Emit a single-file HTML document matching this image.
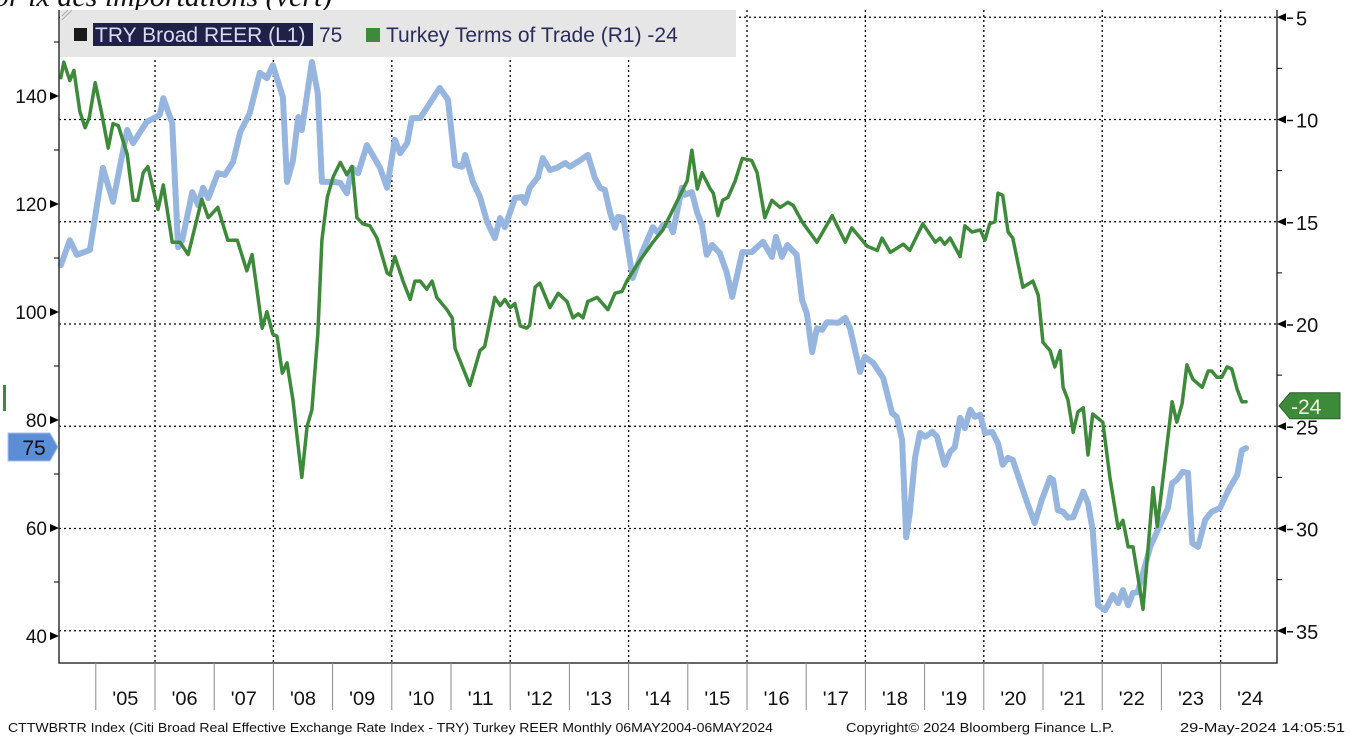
<!DOCTYPE html>
<html><head><meta charset="utf-8">
<style>
html,body{margin:0;padding:0;background:#fff;overflow:hidden}
body{width:1351px;height:747px;position:relative;font-family:"Liberation Sans",sans-serif}
svg text{font-family:"Liberation Sans",sans-serif}
</style></head>
<body>
<svg id="chart" width="1351" height="747" viewBox="0 0 1351 747" xmlns="http://www.w3.org/2000/svg">
<text x="-6" y="6" font-family="Liberation Serif" font-style="italic" font-size="30" fill="#111" style="font-family:'Liberation Serif',serif">pr ix des importations (vert)</text>
<g id="grid"></g>
<g id="series"></g>
<g id="axes"></g>
<rect x="60" y="10" width="676" height="47" fill="#e6e6e6"/>
<path d="M62 16 L68 10 M62 20 L72 10" stroke="#aaa" stroke-width="1"/>
<rect x="74" y="28" width="13" height="13" fill="#1a1a1a"/>
<rect x="93" y="23" width="220" height="23" fill="#1f2147"/>
<text x="95" y="42" font-size="21" fill="#d6dcf0">TRY Broad REER (L1)</text>
<text x="319" y="42" font-size="21" fill="#2a2d5c">75</text>
<rect x="366" y="28" width="14" height="14" fill="#3d8a3a"/>
<text x="386" y="42" font-size="21" fill="#2a2d5c">Turkey Terms of Trade (R1) -24</text>
<text x="8" y="732" font-size="12.5" fill="#111" textLength="765" lengthAdjust="spacingAndGlyphs">CTTWBRTR Index (Citi Broad Real Effective Exchange Rate Index - TRY) Turkey REER  Monthly 06MAY2004-06MAY2024</text>
<text x="846" y="732" font-size="12.5" fill="#111" textLength="268" lengthAdjust="spacingAndGlyphs">Copyright© 2024 Bloomberg Finance L.P.</text>
<text x="1180" y="732" font-size="12.5" fill="#111" textLength="165" lengthAdjust="spacingAndGlyphs">29-May-2024 14:05:51</text>
</svg>
<script>
const reerDates=[2004.41,2004.56,2004.68,2004.90,2005.12,2005.29,2005.53,2005.63,2005.86,2006.08,2006.14,2006.29,2006.39,2006.46,2006.63,2006.73,2006.81,2006.90,2007.06,2007.18,2007.32,2007.44,2007.60,2007.77,2007.89,2007.99,2008.16,2008.23,2008.33,2008.42,2008.48,2008.65,2008.75,2008.82,2009.01,2009.13,2009.24,2009.33,2009.43,2009.58,2009.80,2009.92,2010.05,2010.14,2010.26,2010.34,2010.48,2010.81,2010.95,2011.07,2011.19,2011.24,2011.37,2011.49,2011.61,2011.74,2011.83,2011.91,2012.08,2012.20,2012.25,2012.33,2012.47,2012.55,2012.67,2012.79,2012.93,2013.01,2013.18,2013.31,2013.43,2013.52,2013.60,2013.69,2013.77,2013.82,2013.91,2014.07,2014.23,2014.41,2014.50,2014.58,2014.70,2014.75,2014.90,2014.95,2015.07,2015.16,2015.24,2015.32,2015.41,2015.54,2015.66,2015.75,2015.92,2016.08,2016.27,2016.42,2016.49,2016.59,2016.68,2016.84,2016.93,2017.01,2017.10,2017.18,2017.27,2017.35,2017.54,2017.66,2017.74,2017.91,2017.99,2018.13,2018.30,2018.45,2018.53,2018.62,2018.69,2018.75,2018.84,2018.92,2019.01,2019.13,2019.21,2019.34,2019.43,2019.51,2019.60,2019.68,2019.77,2019.85,2019.94,2020.02,2020.14,2020.24,2020.32,2020.41,2020.49,2020.73,2020.86,2020.98,2021.12,2021.17,2021.25,2021.34,2021.42,2021.51,2021.68,2021.76,2021.84,2021.93,2022.05,2022.18,2022.27,2022.35,2022.44,2022.52,2022.60,2022.81,2022.98,2023.11,2023.18,2023.26,2023.36,2023.45,2023.52,2023.62,2023.74,2023.85,2023.99,2024.07,2024.16,2024.28,2024.36,2024.43];
const reerValues=[108.7,113.3,110.6,111.5,126.7,120.4,133.7,131.3,135.2,136.5,139.6,135,112,113.3,122.2,119.8,123,121.1,125.7,125.4,127.8,133.3,136.8,144.3,143.3,145.7,139.8,124.1,128,136.1,133.7,146.3,140.5,124.1,124.1,123.9,122,126.7,125.7,130.9,126.7,123,131.9,129.4,131.3,135.9,135.9,141.5,139.3,127.2,126.9,129.1,124.1,121.3,116.7,113.7,117.4,115.7,121.1,121.3,120.2,123,125,128.5,126.3,126.7,127.6,126.9,128.1,129.1,124.8,123,122.6,118.3,115.6,117.6,117.4,106.3,111.1,115.7,114.6,116.1,116.1,114.8,123,121.7,122.2,118.3,116.1,110.6,112.4,110.9,107.2,102.8,111.1,111.1,113,110.2,113.9,110.2,112.4,110.6,102.2,99.8,92.6,97,96.7,98.1,98,98.9,97,88.9,91.7,90.6,87.8,81.3,80.6,76.3,58.3,62.8,73.1,77.6,76.9,77.8,76.9,71.7,74.1,75,80.4,78.5,81.9,80.6,81,77.6,77.8,75.7,71.7,73,72.6,64.8,60.9,65.2,69.3,68.9,63.3,63,61.9,62,66.7,64.6,59.6,45.7,44.8,47.6,46.1,48.5,45.7,48,48.1,56.5,60.6,63.7,68.3,68.9,70.4,70.2,57.2,56.5,61.5,63,63.7,65.6,67.6,69.8,74.4,74.8];
const totDates=[2004.41,2004.46,2004.56,2004.63,2004.73,2004.82,2004.89,2004.99,2005.10,2005.21,2005.29,2005.38,2005.53,2005.63,2005.71,2005.80,2005.88,2006.05,2006.14,2006.29,2006.42,2006.56,2006.79,2006.90,2007.06,2007.23,2007.39,2007.55,2007.64,2007.81,2007.89,2007.99,2008.06,2008.15,2008.23,2008.33,2008.38,2008.48,2008.57,2008.65,2008.75,2008.82,2008.91,2009.01,2009.13,2009.24,2009.33,2009.41,2009.51,2009.63,2009.75,2009.92,2009.97,2010.05,2010.19,2010.31,2010.39,2010.48,2010.59,2010.68,2010.76,2010.93,2011.02,2011.07,2011.32,2011.49,2011.57,2011.74,2011.83,2011.91,2012.00,2012.08,2012.17,2012.28,2012.33,2012.42,2012.50,2012.67,2012.81,2012.96,2013.06,2013.15,2013.23,2013.31,2013.47,2013.65,2013.77,2013.89,2013.97,2014.19,2014.41,2014.58,2014.75,2014.99,2015.07,2015.16,2015.24,2015.38,2015.43,2015.51,2015.59,2015.68,2015.80,2015.92,2016.08,2016.17,2016.30,2016.42,2016.56,2016.69,2016.78,2016.93,2017.18,2017.44,2017.66,2017.77,2018.03,2018.20,2018.28,2018.42,2018.64,2018.75,2018.97,2019.18,2019.26,2019.34,2019.43,2019.60,2019.68,2019.80,2019.94,2020.02,2020.10,2020.19,2020.24,2020.32,2020.41,2020.49,2020.66,2020.83,2020.92,2021.00,2021.12,2021.20,2021.29,2021.34,2021.42,2021.51,2021.59,2021.68,2021.76,2021.84,2022.01,2022.13,2022.27,2022.35,2022.44,2022.52,2022.60,2022.69,2022.86,2022.93,2023.18,2023.26,2023.35,2023.43,2023.53,2023.69,2023.79,2023.85,2023.94,2024.02,2024.11,2024.19,2024.28,2024.36,2024.43];
const totValues=[-7.95,-7.2,-8.1,-7.6,-9.6,-10.4,-9.9,-8.2,-9.7,-11.4,-10.2,-10.3,-11.7,-13.95,-13.95,-12.6,-12.3,-14.4,-13.2,-16,-16.0,-16.6,-13.9,-14.8,-14.3,-15.9,-15.9,-17.4,-16.6,-20.2,-19.4,-20.5,-20.6,-22.4,-21.9,-23.7,-25,-27.5,-25,-24.2,-20.5,-15.9,-13.8,-12.8,-12.1,-12.7,-12.3,-14.8,-15.1,-15.2,-15.8,-17.5,-17.6,-16.7,-17.9,-18.8,-17.9,-17.9,-18.3,-17.9,-18.7,-19.3,-19.7,-21.2,-23.0,-21.3,-21.1,-18.7,-19.1,-18.8,-19.2,-19,-20.1,-20.2,-20.05,-18.2,-18,-19.2,-18.5,-18.9,-19.7,-19.5,-19.7,-18.9,-18.7,-19.3,-18.5,-18.4,-17.9,-16.9,-16.0,-15.4,-14.4,-13.0,-11.5,-13.4,-12.6,-13.4,-13.6,-14.7,-13.95,-13.8,-13.0,-11.9,-12.0,-12.6,-14.8,-13.95,-14.3,-14.05,-14.2,-15.0,-16.0,-14.7,-16.0,-15.3,-16.2,-16.4,-15.8,-16.5,-16.1,-16.4,-15.1,-16.0,-15.8,-16.1,-15.8,-16.7,-15.2,-15.5,-15.4,-15.9,-15.1,-15.0,-13.6,-13.7,-15.5,-15.8,-18.2,-17.9,-18.6,-20.9,-21.3,-22.1,-21.3,-23.1,-23.7,-25.3,-24.3,-24.1,-26.4,-24.4,-24.8,-27.5,-30,-29.6,-30.9,-30.9,-32.3,-33.95,-28.0,-29.9,-23.8,-24.8,-23.9,-22.0,-22.7,-23.1,-22.3,-22.3,-22.6,-22.6,-22.1,-22.2,-23.2,-23.8,-23.8];
const leftTicks=[40,60,80,100,120,140];
const leftMinor=[50,70,90,110,130,150];
const rightTicks=[-5,-10,-15,-20,-25,-30,-35];
const rightMinor=[-7.5,-12.5,-17.5,-22.5,-27.5,-32.5];
const yearLabels=["'05","'06","'07","'08","'09","'10","'11","'12","'13","'14","'15","'16","'17","'18","'19","'20","'21","'22","'23","'24"];
const yearStarts=[2005,2006,2007,2008,2009,2010,2011,2012,2013,2014,2015,2016,2017,2018,2019,2020,2021,2022,2023,2024];
const gridYears=[2006,2008,2010,2012,2014,2016,2018,2020,2022,2024];
const lastReer=75, lastTot=-24;

const NS="http://www.w3.org/2000/svg";
const X0=59,X1=1277,Y0=10,Y1=663;
const xs=t=>155+(t-2006)*59.2;
const yl=v=>312-(v-100)*5.4;
const yr=v=>324-(v+20)*20.45;
function mk(tag,attrs,parent){const e=document.createElementNS(NS,tag);for(const k in attrs)e.setAttribute(k,attrs[k]);parent.appendChild(e);return e;}
const grid=document.getElementById('grid'),series=document.getElementById('series'),axes=document.getElementById('axes');

rightTicks.forEach(v=>{const l=mk('line',{x1:X0,x2:X1,y1:yr(v),y2:yr(v),stroke:'#000','stroke-width':1.3,'stroke-dasharray':'2,3'},grid);

});
gridYears.forEach(t=>{const l=mk('line',{x1:xs(t),x2:xs(t),y1:Y0,y2:Y1,stroke:'#000','stroke-width':1.3,'stroke-dasharray':'2,3'},grid);

});

function path(dates,vals,yf,color,w,name){
  const d=dates.map((t,i)=>(i?'L':'M')+xs(t).toFixed(1)+' '+yf(vals[i]).toFixed(1)).join(' ');
  const p=mk('path',{d:d,fill:'none',stroke:color,'stroke-width':w,'stroke-linejoin':'round','stroke-linecap':'round'},series);
  
  
}
path(reerDates,reerValues,yl,'#97b6df',6,'reer-line');
path(totDates,totValues,yr,'#3d8a3a',3.5,'terms-of-trade-line');

const fr=mk('path',{d:`M${X0} ${Y0} L${X0} ${Y1} L${X1} ${Y1} L${X1} ${Y0}`,fill:'none',stroke:'#333','stroke-width':1.5},axes);



leftTicks.forEach(v=>{const y=yl(v);
  mk('path',{d:`M${X0} ${y} L${X0-9} ${y-4} L${X0-9} ${y+4} Z`,fill:'#000'},axes);
  const t=mk('text',{x:47,y:y+7,'text-anchor':'end','font-size':19,fill:'#111'},axes);t.textContent=v;
  
  });
leftMinor.forEach(v=>{const y=yl(v);mk('line',{x1:X0-5,x2:X0,y1:y,y2:y,stroke:'#000'},axes);});
rightTicks.forEach(v=>{const y=yr(v);
  mk('path',{d:`M${X1} ${y} L${X1+9} ${y-4} L${X1+9} ${y+4} Z`,fill:'#000'},axes);
  mk('line',{x1:X1+10,x2:X1+16,y1:y+1,y2:y+1,stroke:'#111','stroke-width':1.5},axes);
  const t=mk('text',{x:1296,y:y+8,'font-size':20,fill:'#111'},axes);t.textContent=Math.abs(v);
  
  });
rightMinor.forEach(v=>{const y=yr(v);mk('line',{x1:X1,x2:X1+5,y1:y,y2:y,stroke:'#000'},axes);});

yearStarts.forEach((t,i)=>{const x=xs(t);
  mk('line',{x1:x,x2:x,y1:Y1,y2:710,stroke:'#888','stroke-width':1},axes);
  const lb=mk('text',{x:x+29.6,y:705,'text-anchor':'middle','font-size':19,fill:'#111',textLength:26,lengthAdjust:'spacingAndGlyphs'},axes);
  lb.textContent=yearLabels[i];
  
  });

const yb=yl(lastReer);
const tg=mk('path',{d:`M8 ${yb-14} L50 ${yb-14} L58 ${yb} L50 ${yb+14} L8 ${yb+14} Z`,fill:'#5b8ed6',stroke:'#a9c2e8','stroke-width':1},axes);


const tt=mk('text',{x:34,y:yb+8,'text-anchor':'middle','font-size':21,fill:'#111'},axes);tt.textContent=lastReer;
mk('rect',{x:3,y:385,width:3,height:26,fill:'#3d8a3a'},axes);
const yg=yr(lastTot);
const tg2=mk('path',{d:`M1279 ${yg} L1290 ${yg-13} L1340 ${yg-13} L1340 ${yg+13} L1290 ${yg+13} Z`,fill:'#3d8a3a',stroke:'#2d5f2b','stroke-width':1},axes);


const tt2=mk('text',{x:1291,y:yg+8,'font-size':21,fill:'#f4f4e0'},axes);tt2.textContent=lastTot;
</script>
</body></html>
